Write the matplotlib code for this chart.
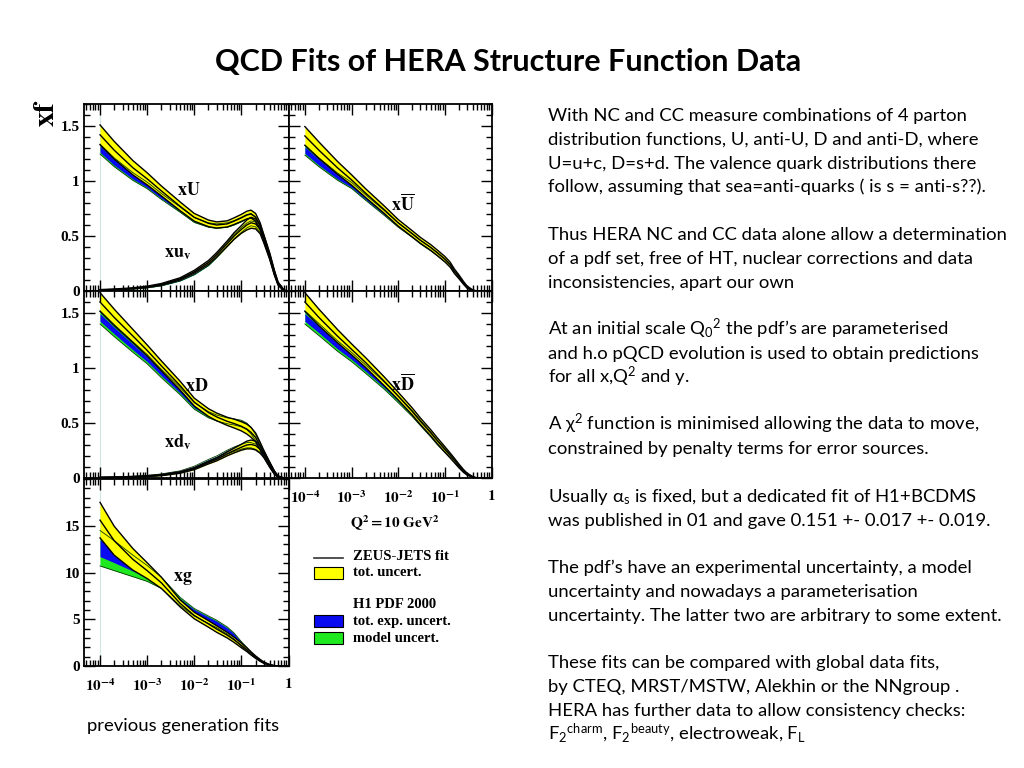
import numpy as np
import matplotlib.pyplot as plt
from matplotlib.patches import Rectangle
from matplotlib.lines import Line2D
from matplotlib.ticker import MultipleLocator, LogLocator, NullFormatter

plt.rcParams['font.family'] = ['Lato', 'DejaVu Sans']
plt.rcParams['mathtext.fontset'] = 'custom'
plt.rcParams['mathtext.rm'] = 'Lato'
plt.rcParams['mathtext.it'] = 'Lato:italic'
plt.rcParams['mathtext.bf'] = 'Lato:bold'
plt.rcParams['mathtext.default'] = 'regular'

# x grid shared by all curves (Q^2 = 10 GeV^2)
x = [1e-4, 2e-4, 5e-4, 1e-3, 2e-3, 5e-3, 0.01, 0.02, 0.03, 0.05, 0.07,
     0.1, 0.13, 0.16, 0.2, 0.25, 0.3, 0.4, 0.5, 0.6, 0.8, 1.0]

# xU : ZEUS-JETS central + half width, H1 PDF 2000 central + exp / model half widths
xU_zeus = [1.42, 1.28, 1.12, 1.02, 0.91, 0.77, 0.67, 0.615, 0.60, 0.61, 0.635, 0.665, 0.69, 0.70, 0.67, 0.59, 0.48, 0.32, 0.17, 0.07, 0.005, 0.0]
xU_zerr = [0.09, 0.08, 0.065, 0.055, 0.045, 0.04, 0.035, 0.03, 0.028, 0.028, 0.03, 0.032, 0.035, 0.035, 0.035, 0.03, 0.03, 0.025, 0.02, 0.012, 0.004, 0.0]
xU_h1 = [1.29, 1.17, 1.04, 0.96, 0.86, 0.74, 0.645, 0.60, 0.59, 0.60, 0.62, 0.65, 0.675, 0.685, 0.655, 0.58, 0.47, 0.31, 0.165, 0.065, 0.005, 0.0]
xU_exp = [0.03, 0.027, 0.023, 0.02, 0.018, 0.016, 0.015, 0.015, 0.015, 0.015, 0.015, 0.015, 0.015, 0.015, 0.015, 0.015, 0.015, 0.012, 0.01, 0.008, 0.003, 0.0]
xU_mod = [0.045, 0.04, 0.035, 0.03, 0.027, 0.024, 0.022, 0.02, 0.02, 0.02, 0.02, 0.02, 0.02, 0.02, 0.02, 0.02, 0.02, 0.016, 0.013, 0.01, 0.004, 0.0]

# xu_v
xuv_zeus = [0.01, 0.014, 0.024, 0.038, 0.06, 0.11, 0.175, 0.26, 0.33, 0.43, 0.50, 0.56, 0.60, 0.62, 0.61, 0.56, 0.47, 0.31, 0.165, 0.065, 0.005, 0.0]
xuv_zerr = [0.003, 0.004, 0.005, 0.006, 0.008, 0.01, 0.013, 0.017, 0.02, 0.025, 0.03, 0.035, 0.045, 0.05, 0.045, 0.04, 0.035, 0.025, 0.02, 0.012, 0.004, 0.0]
xuv_h1 = [0.01, 0.013, 0.022, 0.034, 0.054, 0.10, 0.16, 0.245, 0.32, 0.425, 0.495, 0.555, 0.595, 0.615, 0.605, 0.555, 0.465, 0.305, 0.16, 0.063, 0.005, 0.0]
xuv_exp = [0.002, 0.002, 0.003, 0.004, 0.005, 0.007, 0.009, 0.01, 0.012, 0.014, 0.015, 0.016, 0.016, 0.016, 0.016, 0.015, 0.013, 0.01, 0.008, 0.005, 0.002, 0.0]
xuv_mod = [0.003, 0.003, 0.004, 0.005, 0.007, 0.009, 0.012, 0.014, 0.016, 0.018, 0.02, 0.022, 0.022, 0.022, 0.022, 0.02, 0.018, 0.014, 0.01, 0.006, 0.002, 0.0]

# xUbar
xUbar_zeus = [1.41, 1.28, 1.12, 1.01, 0.89, 0.74, 0.62, 0.52, 0.46, 0.395, 0.345, 0.29, 0.24, 0.18, 0.13, 0.075, 0.035, 0.005, 0.0, 0.0, 0.0, 0.0]
xUbar_zerr = [0.085, 0.075, 0.058, 0.047, 0.04, 0.034, 0.03, 0.028, 0.027, 0.026, 0.025, 0.024, 0.022, 0.02, 0.017, 0.013, 0.01, 0.004, 0.0, 0.0, 0.0, 0.0]
xUbar_h1 = [1.28, 1.17, 1.04, 0.96, 0.85, 0.71, 0.60, 0.505, 0.445, 0.38, 0.332, 0.277, 0.228, 0.172, 0.122, 0.07, 0.033, 0.005, 0.0, 0.0, 0.0, 0.0]
xUbar_exp = [0.03, 0.027, 0.022, 0.019, 0.017, 0.015, 0.014, 0.013, 0.012, 0.012, 0.011, 0.011, 0.01, 0.009, 0.008, 0.006, 0.004, 0.002, 0.0, 0.0, 0.0, 0.0]
xUbar_mod = [0.045, 0.04, 0.033, 0.028, 0.025, 0.022, 0.02, 0.018, 0.017, 0.016, 0.015, 0.014, 0.013, 0.012, 0.01, 0.008, 0.005, 0.002, 0.0, 0.0, 0.0, 0.0]

# xD
xD_zeus = [1.60, 1.46, 1.29, 1.16, 1.02, 0.84, 0.69, 0.595, 0.555, 0.515, 0.495, 0.47, 0.445, 0.415, 0.37, 0.29, 0.22, 0.12, 0.05, 0.012, 0.0, 0.0]
xD_zerr = [0.085, 0.075, 0.06, 0.05, 0.045, 0.04, 0.036, 0.035, 0.035, 0.037, 0.04, 0.042, 0.045, 0.045, 0.04, 0.035, 0.03, 0.022, 0.014, 0.006, 0.0, 0.0]
xD_h1 = [1.46, 1.34, 1.19, 1.08, 0.95, 0.79, 0.655, 0.575, 0.545, 0.52, 0.51, 0.495, 0.47, 0.43, 0.37, 0.285, 0.215, 0.12, 0.05, 0.012, 0.0, 0.0]
xD_exp = [0.035, 0.03, 0.026, 0.022, 0.02, 0.018, 0.017, 0.017, 0.018, 0.02, 0.022, 0.024, 0.025, 0.025, 0.022, 0.02, 0.017, 0.012, 0.008, 0.004, 0.0, 0.0]
xD_mod = [0.06, 0.055, 0.048, 0.042, 0.038, 0.033, 0.03, 0.028, 0.027, 0.027, 0.028, 0.03, 0.03, 0.03, 0.027, 0.024, 0.02, 0.014, 0.009, 0.004, 0.0, 0.0]

# xd_v
xdv_zeus = [0.005, 0.007, 0.011, 0.017, 0.026, 0.05, 0.085, 0.14, 0.17, 0.22, 0.25, 0.28, 0.30, 0.305, 0.295, 0.26, 0.215, 0.12, 0.05, 0.012, 0.0, 0.0]
xdv_zerr = [0.002, 0.002, 0.003, 0.004, 0.005, 0.007, 0.009, 0.012, 0.014, 0.018, 0.022, 0.027, 0.035, 0.04, 0.04, 0.035, 0.03, 0.022, 0.014, 0.006, 0.0, 0.0]
xdv_h1 = [0.005, 0.007, 0.012, 0.019, 0.03, 0.056, 0.095, 0.155, 0.185, 0.235, 0.262, 0.285, 0.298, 0.298, 0.285, 0.255, 0.215, 0.125, 0.055, 0.014, 0.0, 0.0]
xdv_exp = [0.002, 0.002, 0.003, 0.004, 0.005, 0.007, 0.009, 0.011, 0.012, 0.014, 0.016, 0.018, 0.02, 0.02, 0.02, 0.018, 0.016, 0.012, 0.008, 0.004, 0.0, 0.0]
xdv_mod = [0.003, 0.003, 0.004, 0.005, 0.007, 0.009, 0.012, 0.014, 0.016, 0.018, 0.02, 0.022, 0.024, 0.024, 0.024, 0.022, 0.019, 0.014, 0.009, 0.004, 0.0, 0.0]

# xDbar
xDbar_zeus = [1.60, 1.46, 1.29, 1.17, 1.05, 0.88, 0.745, 0.605, 0.515, 0.41, 0.335, 0.26, 0.205, 0.16, 0.11, 0.065, 0.035, 0.008, 0.0, 0.0, 0.0, 0.0]
xDbar_zerr = [0.085, 0.075, 0.06, 0.05, 0.045, 0.04, 0.035, 0.032, 0.03, 0.028, 0.027, 0.025, 0.022, 0.02, 0.017, 0.013, 0.009, 0.004, 0.0, 0.0, 0.0, 0.0]
xDbar_h1 = [1.46, 1.35, 1.20, 1.10, 0.99, 0.84, 0.715, 0.585, 0.50, 0.395, 0.32, 0.25, 0.198, 0.155, 0.107, 0.065, 0.035, 0.008, 0.0, 0.0, 0.0, 0.0]
xDbar_exp = [0.035, 0.03, 0.026, 0.022, 0.02, 0.018, 0.016, 0.015, 0.014, 0.013, 0.012, 0.011, 0.01, 0.009, 0.008, 0.006, 0.004, 0.002, 0.0, 0.0, 0.0, 0.0]
xDbar_mod = [0.06, 0.055, 0.048, 0.042, 0.038, 0.033, 0.03, 0.027, 0.025, 0.023, 0.021, 0.019, 0.017, 0.015, 0.012, 0.009, 0.006, 0.003, 0.0, 0.0, 0.0, 0.0]

# xg
xg_zeus = [15.6, 13.4, 11.4, 10.2, 8.9, 6.7, 5.4, 4.5, 3.95, 3.3, 2.8, 2.2, 1.75, 1.35, 0.95, 0.6, 0.35, 0.12, 0.03, 0.0, 0.0, 0.0]
xg_zerr = [1.9, 1.55, 1.15, 0.85, 0.6, 0.38, 0.35, 0.35, 0.35, 0.3, 0.28, 0.25, 0.2, 0.17, 0.13, 0.1, 0.07, 0.04, 0.02, 0.0, 0.0, 0.0]
xg_h1 = [12.6, 11.8, 10.7, 9.9, 8.9, 6.9, 5.75, 4.95, 4.5, 3.8, 3.2, 2.35, 1.8, 1.35, 0.95, 0.6, 0.35, 0.12, 0.03, 0.0, 0.0, 0.0]
xg_exp = [0.9, 0.75, 0.55, 0.45, 0.35, 0.3, 0.3, 0.3, 0.3, 0.28, 0.25, 0.2, 0.15, 0.12, 0.1, 0.07, 0.05, 0.03, 0.01, 0.0, 0.0, 0.0]
xg_mod = [1.9, 1.6, 1.15, 0.85, 0.6, 0.45, 0.4, 0.4, 0.4, 0.38, 0.33, 0.25, 0.2, 0.15, 0.12, 0.09, 0.06, 0.03, 0.01, 0.0, 0.0, 0.0]

x_ticks = [1e-4, 1e-3, 1e-2, 1e-1, 1]
x_ticklabels = [r'$\mathbf{10^{-4}}$', r'$\mathbf{10^{-3}}$', r'$\mathbf{10^{-2}}$',
                r'$\mathbf{10^{-1}}$', r'$\mathbf{1}$']
q_tickvals = [0, 0.5, 1, 1.5]
q_ticklabels = ['0', '0.5', '1', '1.5']
g_tickvals = [0, 5, 10, 15]
g_ticklabels = ['0', '5', '10', '15']

body_lines = [
    (0, "With NC and CC measure combinations of 4 parton"),
    (1, "distribution functions, U, anti-U, D and anti-D, where"),
    (2, "U=u+c, D=s+d. The valence quark distributions there"),
    (3, "follow, assuming that sea=anti-quarks ( is s = anti-s??)."),
    (5, "Thus HERA NC and CC data alone allow a determination"),
    (6, "of a pdf set, free of HT, nuclear corrections and data"),
    (7, "inconsistencies, apart our own"),
    (9, "At an initial scale Q$_0$$^2$ the pdf\u2019s are parameterised"),
    (10, "and h.o pQCD evolution is used to obtain predictions"),
    (11, "for all x,Q$^2$ and y."),
    (13, "A $\\chi^2$ function is minimised allowing the data to move,"),
    (14, "constrained by penalty terms for error sources."),
    (16, "Usually $\\alpha_s$ is fixed, but a dedicated fit of H1+BCDMS"),
    (17, "was published in 01 and gave 0.151 +- 0.017 +- 0.019."),
    (19, "The pdf\u2019s have an experimental uncertainty, a model"),
    (20, "uncertainty and nowadays a parameterisation"),
    (21, "uncertainty. The latter two are arbitrary to some extent."),
    (23, "These fits can be compared with global data fits,"),
    (24, "by CTEQ, MRST/MSTW, Alekhin or the NNgroup ."),
    (25, "HERA has further data to allow consistency checks:"),
    (26, "F$_2$$^{charm}$, F$_2$$^{beauty}$, electroweak, F$_L$"),
]

YELLOW = '#ffff00'
BLUE = '#0a0af0'
GREEN = '#1ee81e'
W, H = 1024, 768
SERIF = 'Liberation Serif'

fig = plt.figure(figsize=(10.24, 7.68), dpi=100)


def add_panel(left, top, right, bottom):
    return fig.add_axes([left / W, 1 - bottom / H, (right - left) / W, (bottom - top) / H])


def draw_pdf(ax, zc, ze, hc, he, hm):
    zc, ze, hc, he, hm = [np.array(a) for a in (zc, ze, hc, he, hm)]
    ax.fill_between(x, np.clip(hc - hm, 0, None), hc + hm, color=GREEN, lw=0)
    ax.fill_between(x, np.clip(hc - he, 0, None), hc + he, color=BLUE, lw=0)
    ax.plot(x, np.clip(hc - hm, 0, None), color='#0b3a0b', lw=0.6)
    ax.plot(x, hc + hm, color='#0b3a0b', lw=0.6)
    ax.fill_between(x, np.clip(zc - ze, 0, None), zc + ze, color=YELLOW, lw=0)
    for y in (np.clip(zc - ze, 0, None), zc, zc + ze):
        ax.plot(x, y, color='black', lw=1.0)


def style_panel(ax, ymax, yminor, tickvals, ylabels, xlabels, left_col):
    ax.set_xscale('log')
    ax.set_xlim(10 ** -4.34, 10 ** 0.01)
    ax.set_ylim(0, ymax)
    ax.set_xticks(x_ticks)
    ax.xaxis.set_minor_locator(LogLocator(base=10, subs=np.arange(2, 10), numticks=20))
    ax.xaxis.set_minor_formatter(NullFormatter())
    ax.set_yticks(tickvals)
    ax.yaxis.set_minor_locator(MultipleLocator(yminor))
    ax.tick_params(which='both', direction='in', top=True, right=True, width=1.0)
    ax.tick_params(which='major', length=8)
    ax.tick_params(which='minor', length=4)
    if xlabels:
        ax.set_xticklabels(x_ticklabels, math_fontfamily='stix', fontsize=11)
        ax.tick_params(axis='x', pad=8)
    else:
        ax.set_xticklabels([])
    if ylabels:
        ax.set_yticklabels(ylabels, family=SERIF, weight='bold', fontsize=11)
        ax.tick_params(axis='y', pad=3)
    else:
        ax.set_yticklabels([])
    for s in ax.spines.values():
        s.set_linewidth(1.3)
    if left_col:
        ax.axvline(1e-4, color='#cfe8dc', lw=0.8, zorder=0)


ax1 = add_panel(84, 104, 289, 291)
ax2 = add_panel(289, 104, 492, 291)
ax3 = add_panel(84, 291, 289, 478)
ax4 = add_panel(289, 291, 492, 478)
ax5 = add_panel(84, 479, 289, 666)

draw_pdf(ax1, xuv_zeus, xuv_zerr, xuv_h1, xuv_exp, xuv_mod)
draw_pdf(ax1, xU_zeus, xU_zerr, xU_h1, xU_exp, xU_mod)
draw_pdf(ax2, xUbar_zeus, xUbar_zerr, xUbar_h1, xUbar_exp, xUbar_mod)
draw_pdf(ax3, xdv_zeus, xdv_zerr, xdv_h1, xdv_exp, xdv_mod)
draw_pdf(ax3, xD_zeus, xD_zerr, xD_h1, xD_exp, xD_mod)
draw_pdf(ax4, xDbar_zeus, xDbar_zerr, xDbar_h1, xDbar_exp, xDbar_mod)
draw_pdf(ax5, xg_zeus, xg_zerr, xg_h1, xg_exp, xg_mod)

style_panel(ax1, 1.7, 0.1, q_tickvals, q_ticklabels, False, True)
style_panel(ax2, 1.7, 0.1, q_tickvals, None, False, False)
style_panel(ax3, 1.7, 0.1, q_tickvals, q_ticklabels, False, True)
style_panel(ax4, 1.7, 0.1, q_tickvals, None, True, False)
style_panel(ax5, 20, 1, g_tickvals, g_ticklabels, True, True)

lab = dict(math_fontfamily='stix', fontsize=13, ha='center', va='center')
ax1.text(0.0075, 0.92, r'$\mathbf{xU}$', **lab)
ax1.text(0.0045, 0.34, r'$\mathbf{xu_v}$', **lab)
ax2.text(0.0125, 0.80, r'$\mathbf{x\overline{U}}$', **lab)
ax3.text(0.011, 0.845, r'$\mathbf{xD}$', **lab)
ax3.text(0.0045, 0.33, r'$\mathbf{xd_v}$', **lab)
ax4.text(0.0125, 0.86, r'$\mathbf{x\overline{D}}$', **lab)
ax5.text(0.0058, 9.4, r'$\mathbf{xg}$', **lab)

fig.text(46 / W, 1 - 113 / H, r'$\mathbf{xf}$', math_fontfamily='stix', fontsize=21,
         rotation=90, ha='center', va='center')
fig.text(395 / W, 1 - 523 / H, r'$\mathbf{Q^2 = 10\ GeV^2}$', math_fontfamily='stix',
         fontsize=11, ha='center', va='center')

# legend drawn by hand in figure coordinates
fig.add_artist(Line2D([314 / W, 343 / W], [1 - 558 / H, 1 - 558 / H], color='#333333', lw=1.2))
for top, col in ((567, YELLOW), (615, BLUE), (632, GREEN)):
    fig.add_artist(Rectangle((314 / W, 1 - (top + 12) / H), 29 / W, 12 / H,
                             facecolor=col, edgecolor='black', lw=0.8))
leg = dict(family=SERIF, weight='bold', fontsize=10.5, ha='left', va='center')
fig.text(353 / W, 1 - 557 / H, 'ZEUS-JETS fit', **leg)
fig.text(353 / W, 1 - 573 / H, 'tot. uncert.', **leg)
fig.text(353 / W, 1 - 605 / H, 'H1 PDF 2000', **leg)
fig.text(353 / W, 1 - 621 / H, 'tot. exp. uncert.', **leg)
fig.text(353 / W, 1 - 638 / H, 'model uncert.', **leg)

fig.text(508 / W, 1 - 62 / H, 'QCD Fits of HERA Structure Function Data',
         fontsize=22, weight='bold', ha='center', va='center')
for k, line in body_lines:
    fig.text(548 / W, 1 - (121 + 23.8 * k) / H, line, fontsize=13.3, ha='left', va='baseline')
fig.text(183 / W, 1 - 726 / H, 'previous generation fits', fontsize=13.3, ha='center', va='center')

fig.savefig('out.png', dpi=100)
